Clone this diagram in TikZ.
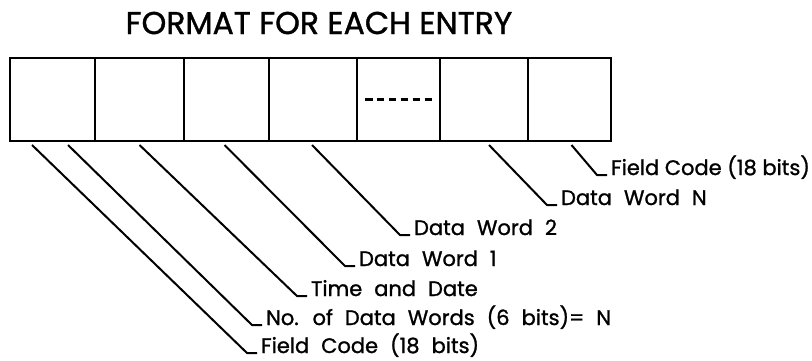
\documentclass[tikz,border=0pt]{standalone}
\usepackage{fontspec}
\setmainfont{Poppins}[FakeBold=1.2, AutoFakeBold=1.2]
\usetikzlibrary{calc}
\newcommand\lblfont{\fontsize{21}{24}\bfseries\spaceskip 12pt plus 2pt\relax}
\tikzset{
  every picture/.style={line width=2.2pt},
  cell/.style={draw, minimum height=83pt, inner sep=0pt, outer sep=0pt},
  leader/.style={draw, line width=2pt, line join=round},
  lbl/.style={anchor=base west, inner sep=0pt, font=\lblfont},
  tight/.style={font=\fontsize{21}{24}\bfseries},
  title/.style={font=\fontsize{31.5}{34}\bfseries},
  gap/.style={dash pattern=on 7.5pt off 4.4pt, line width=2.2pt},
}
\begin{document}
\begin{tikzpicture}[x=1pt, y=-1pt]
  \useasboundingbox (0,0) rectangle (812,360);
  \node[title] (t) at (319,23) {FORMAT FOR EACH ENTRY};
  % the seven fields of one entry
  \foreach \l/\r [count=\i] in {10/95, 95/184, 184/269, 269/357, 357/440, 440/528, 528/611}
    \node[cell, minimum width={(\r-\l)*1pt}] (c\i) at ({(\l+\r)/2},99.5) {};
  \draw[gap] ([xshift=8pt]c5.west) -- ([xshift=-8pt]c5.east);
  % labels
  \node[lbl] (l1) at (260,353) {Field Code (18 bits)};
  \node[lbl] (l2) at (265,325) {No. of Data Words (6 bits)= N};
  \node[lbl] (l3) at (310,296) {Time and Date};
  \node[lbl] (l4) at (358,266) {Data Word 1};
  \node[lbl] (l5) at (413,235) {Data Word 2};
  \node[lbl] (l6) at (560,205) {Data Word N};
  \node[lbl, tight] (l7) at (610,175) {Field Code (18 bits)};
  % where the leaders leave the box
  \coordinate (s1) at ([xshift=22pt, yshift=-4pt]c1.south west);
  \coordinate (s2) at ([xshift=58pt, yshift=-4pt]c1.south west);
  \coordinate (s3) at ([yshift=-4pt]c2.south);
  \coordinate (s4) at ([xshift=-2pt, yshift=-4pt]c3.south);
  \coordinate (s5) at ([xshift=-1pt, yshift=-4pt]c4.south);
  \coordinate (s6) at ([xshift=5pt, yshift=-4pt]c6.south);
  \coordinate (s7) at ([xshift=2pt, yshift=-4pt]c7.south);
  \foreach \i in {1,...,7}
    \draw[leader] (s\i) -- ([xshift=-13pt]l\i.base west) -- ([xshift=-3pt]l\i.base west);
\end{tikzpicture}
\end{document}
